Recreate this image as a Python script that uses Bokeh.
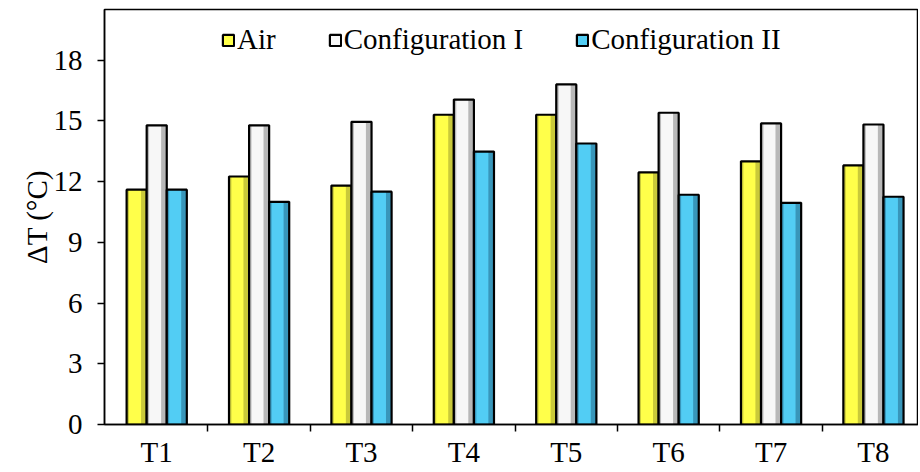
from bokeh.plotting import figure
from bokeh.models import ColumnDataSource, Range1d, FixedTicker, Legend, LegendItem
from bokeh.transform import dodge
from bokeh.embed import file_html
from bokeh.resources import INLINE

categories = ["T1", "T2", "T3", "T4", "T5", "T6", "T7", "T8"]
air = [11.6, 12.25, 11.8, 15.3, 15.3, 12.45, 13.0, 12.8]
config_1 = [14.78, 14.78, 14.95, 16.05, 16.8, 15.4, 14.87, 14.82]
config_2 = [11.6, 11.0, 11.5, 13.48, 13.88, 11.35, 10.95, 11.25]
y_ticks = [0, 3, 6, 9, 12, 15, 18]

series = [
    ("Air", "air", "#FFFF4A", "#C9C93A"),
    ("Configuration I", "c1", "#F7F7F7", "#B8B8B8"),
    ("Configuration II", "c2", "#52CDF4", "#3896BA"),
]

xs = list(range(1, len(categories) + 1))
source = ColumnDataSource(dict(x=xs, air=air, c1=config_1, c2=config_2))

FONT = "'Liberation Serif', 'Times New Roman', serif"
FS = "29px"
LFS = "29px"

p = figure(width=918, height=470, output_backend="svg", toolbar_location=None,
           x_range=Range1d(0.49, 8.44), y_range=Range1d(0, 20.5),
           min_border_left=104, min_border_right=0, min_border_top=9, min_border_bottom=46)

bw = 0.196
items = []
for i, (name, col, bright, dark) in enumerate(series):
    off = (i - 1) * bw
    r1 = p.vbar(x=dodge("x", off, range=p.x_range), top=col, width=bw, bottom=0,
                source=source, fill_color=dark, line_color=None)
    r2 = p.vbar(x=dodge("x", off - bw * 0.08, range=p.x_range), top=col, width=bw * 0.6, bottom=0,
                source=source, fill_color=bright, line_color=None)
    r3 = p.vbar(x=dodge("x", off, range=p.x_range), top=col, width=bw, bottom=0,
                source=source, fill_color=None, line_color="black", line_width=2.2)
    items.append(LegendItem(label=name, renderers=[r1, r2, r3]))

legend = Legend(items=items, orientation="horizontal", location=(117, 368),
                glyph_width=14, glyph_height=14, label_standoff=2, spacing=52,
                padding=0, margin=0, border_line_color=None, background_fill_alpha=0,
                label_text_font=FONT, label_text_font_size=LFS, label_text_color="black")
p.add_layout(legend, "center")

p.xgrid.visible = False
p.ygrid.visible = False
p.outline_line_color = "black"
p.outline_line_width = 1.5

p.xaxis.ticker = FixedTicker(ticks=xs, minor_ticks=[x + 0.5 for x in xs[:-1]])
p.xaxis.major_label_overrides = {x: c for x, c in zip(xs, categories)}
p.xaxis.major_tick_line_color = None
p.xaxis.major_tick_out = 0
p.xaxis.major_tick_in = 0
p.xaxis.minor_tick_line_color = "black"
p.xaxis.minor_tick_line_width = 1.5
p.xaxis.minor_tick_out = 7
p.xaxis.minor_tick_in = 0
p.xaxis.major_label_standoff = 4

p.yaxis.ticker = FixedTicker(ticks=y_ticks, minor_ticks=[])
p.yaxis.major_tick_out = 7
p.yaxis.major_tick_in = 0
p.yaxis.major_tick_line_width = 1.5
p.yaxis.major_label_standoff = 15
p.yaxis.axis_label = "ΔT (°C)"
p.yaxis.axis_label_standoff = -2

for ax in (p.xaxis, p.yaxis):
    ax.axis_line_color = "black"
    ax.axis_line_width = 1.5
    ax.major_label_text_font = FONT
    ax.major_label_text_font_size = FS
    ax.major_label_text_color = "black"
    ax.axis_label_text_font = FONT
    ax.axis_label_text_font_size = FS
    ax.axis_label_text_font_style = "normal"
    ax.axis_label_text_color = "black"

open("out.html", "w").write(file_html(p, INLINE))
